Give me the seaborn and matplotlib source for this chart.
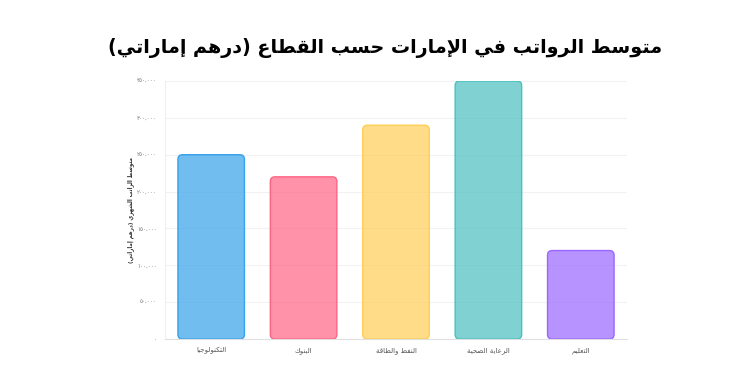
import matplotlib
matplotlib.use('Agg')
import matplotlib.pyplot as plt
import seaborn as sns
from matplotlib.patches import FancyBboxPatch
from matplotlib.ticker import FuncFormatter

sectors = ['التكنولوجيا', 'البنوك', 'النفط والطاقة', 'الرعاية الصحية', 'التعليم']
salaries = [250000, 220000, 290000, 350000, 120000]
colors = ['#36a2eb', '#ff6384', '#ffce56', '#4bc0c0', '#9966ff']
title = 'متوسط الرواتب في الإمارات حسب القطاع (درهم إماراتي)'
ylabel = 'متوسط الراتب الشهري (درهم إماراتي)'

# matplotlib has no Arabic shaping, so map letters to presentation forms by hand
FORMS = {
    'ا': ('\uFE8D', '\uFE8E'), 'إ': ('\uFE87', '\uFE88'), 'أ': ('\uFE83', '\uFE84'),
    'ة': ('\uFE93', '\uFE94'), 'د': ('\uFEA9', '\uFEAA'), 'ر': ('\uFEAD', '\uFEAE'),
    'و': ('\uFEED', '\uFEEE'),
    'لإ': ('\uFEF9', '\uFEFA'), 'لا': ('\uFEFB', '\uFEFC'),
    'ب': ('\uFE8F', '\uFE90', '\uFE91', '\uFE92'), 'ت': ('\uFE95', '\uFE96', '\uFE97', '\uFE98'),
    'ج': ('\uFE9D', '\uFE9E', '\uFE9F', '\uFEA0'), 'ح': ('\uFEA1', '\uFEA2', '\uFEA3', '\uFEA4'),
    'س': ('\uFEB1', '\uFEB2', '\uFEB3', '\uFEB4'), 'ش': ('\uFEB5', '\uFEB6', '\uFEB7', '\uFEB8'),
    'ص': ('\uFEB9', '\uFEBA', '\uFEBB', '\uFEBC'), 'ط': ('\uFEC1', '\uFEC2', '\uFEC3', '\uFEC4'),
    'ع': ('\uFEC9', '\uFECA', '\uFECB', '\uFECC'), 'ف': ('\uFED1', '\uFED2', '\uFED3', '\uFED4'),
    'ق': ('\uFED5', '\uFED6', '\uFED7', '\uFED8'), 'ك': ('\uFED9', '\uFEDA', '\uFEDB', '\uFEDC'),
    'ل': ('\uFEDD', '\uFEDE', '\uFEDF', '\uFEE0'), 'م': ('\uFEE1', '\uFEE2', '\uFEE3', '\uFEE4'),
    'ن': ('\uFEE5', '\uFEE6', '\uFEE7', '\uFEE8'), 'ه': ('\uFEE9', '\uFEEA', '\uFEEB', '\uFEEC'),
    'ي': ('\uFEF1', '\uFEF2', '\uFEF3', '\uFEF4'),
}


def shape(text):
    toks = []
    i = 0
    while i < len(text):
        if text[i] == 'ل' and text[i + 1:i + 2] in ('ا', 'إ'):
            toks.append(text[i:i + 2])
            i += 2
        else:
            toks.append(text[i])
            i += 1
    res = []
    for k, t in enumerate(toks):
        f = FORMS.get(t)
        if f is None:
            res.append(t)
            continue
        prev = toks[k - 1] if k > 0 else None
        nxt = toks[k + 1] if k + 1 < len(toks) else None
        jp = prev in FORMS and len(FORMS[prev]) == 4
        jn = len(f) == 4 and nxt in FORMS
        if jp and jn:
            res.append(f[3])
        elif jp:
            res.append(f[1])
        elif jn:
            res.append(f[2])
        else:
            res.append(f[0])
    return ''.join(res)[::-1].translate(str.maketrans('()', ')('))


def arabic_digits(v, pos):
    s = f'{int(v):,}'
    return s.translate(str.maketrans('0123456789', '٠١٢٣٤٥٦٧٨٩'))


sns.set_style('white')
plt.rcParams['font.family'] = ['DejaVu Sans']

fig = plt.figure(figsize=(7.5, 3.75), dpi=100)
ax = fig.add_axes([0.22, 0.096, 0.616, 0.688])

labels = [shape(s) for s in sectors]
sns.barplot(x=labels, y=salaries, hue=labels, palette=colors, legend=False,
            width=0.72, ax=ax)

# swap plain rectangles for rounded ones, like the original
px_x = 0.616 * 750 / 5.0
px_y = 0.688 * 375 / 350000.0
for patch, c in zip(list(ax.patches), colors):
    x, y = patch.get_x(), patch.get_y()
    w, h = patch.get_width(), patch.get_height()
    patch.remove()
    rp = FancyBboxPatch((x, y), w, h, boxstyle='round,pad=0,rounding_size=0.05',
                        mutation_aspect=px_x / px_y,
                        facecolor=matplotlib.colors.to_rgba(c, 0.7),
                        edgecolor=c, linewidth=1.0)
    ax.add_patch(rp)

ax.set_xlim(-0.5, 4.5)
ax.set_ylim(0, 350000)
ax.set_yticks(range(0, 350001, 50000))
ax.yaxis.set_major_formatter(FuncFormatter(arabic_digits))
ax.grid(axis='y', color='#f2f2f2', linewidth=0.8)
ax.grid(axis='x', visible=False)
ax.set_axisbelow(True)
for side in ['top', 'right']:
    ax.spines[side].set_visible(False)
ax.spines['left'].set_color('#f0f0f0')
ax.spines['bottom'].set_color('#e0e0e0')
ax.tick_params(axis='y', length=0, labelsize=4.0, labelcolor='#777777', pad=6)
ax.tick_params(axis='x', length=0, labelsize=5, labelcolor='#555555', pad=6)

ax.set_ylabel(shape(ylabel), fontsize=4.0, color='#333333', fontweight='bold')
ax.yaxis.set_label_coords(-0.068, 0.5)
fig.text(0.513, 0.872, shape(title), ha='center', va='center',
         fontsize=13.8, fontweight='bold', color='#000000')

fig.savefig('out.png', dpi=100)
